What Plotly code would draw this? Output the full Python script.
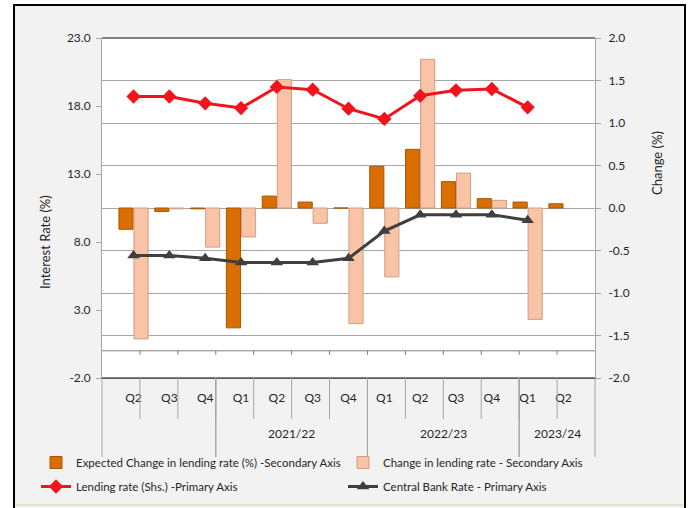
import plotly.graph_objects as go

# Fiscal-year quarters (outer level = fiscal year, inner level = quarter)
fiscal_year = ["", "", "",
               "2021/22", "2021/22", "2021/22", "2021/22",
               "2022/23", "2022/23", "2022/23", "2022/23",
               "2023/24", "2023/24"]
quarter = ["Q2", "Q3", "Q4", "Q1", "Q2", "Q3", "Q4",
           "Q1", "Q2", "Q3", "Q4", "Q1", "Q2"]

# Changes, percentage points (right axis)
expected_change = [-0.25, -0.04, -0.01, -1.41, 0.14, 0.07, 0.0,
                   0.49, 0.69, 0.31, 0.11, 0.07, 0.05]
actual_change = [-1.54, -0.01, -0.46, -0.34, 1.51, -0.18, -1.36,
                 -0.81, 1.75, 0.41, 0.09, -1.31, None]

# Interest rates, percent (left axis)
lending_rate = [18.7, 18.7, 18.2, 17.85, 19.4, 19.2, 17.8,
                17.05, 18.75, 19.15, 19.25, 17.9, None]
central_bank_rate = [7.0, 7.0, 6.8, 6.5, 6.5, 6.5, 6.8,
                     8.8, 10.0, 10.0, 10.0, 9.6, None]

# Axis ticks
rate_ticks = [-2.0, 3.0, 8.0, 13.0, 18.0, 23.0]
change_ticks = [-2.0, -1.5, -1.0, -0.5, 0.0, 0.5, 1.0, 1.5, 2.0]

W, H = 691, 508
L, R, T, B = 102, 96, 38, 130
PW, PH = W - L - R, H - T - B

FONT = "Lato, sans-serif"
TXT = "#262626"
GRID = "#A6A6A6"


def fx(px):
    """Pixel column -> paper x."""
    return (px - L) / PW


def fy(py):
    """Pixel row -> paper y."""
    return (H - B - py) / PH


# unique category keys, displayed with the quarter name only
keys = [f"{q} {y}".strip() for q, y in zip(quarter, fiscal_year)]
n = len(keys)

fig = go.Figure()
fig.add_trace(go.Bar(
    x=keys, y=expected_change, yaxis="y",
    name="Expected Change in lending rate (%) -Secondary Axis",
    marker=dict(color="#DA6E00", line=dict(color="#A85500", width=1)),
    legend="legend", legendgroup="a",
))
fig.add_trace(go.Bar(
    x=keys, y=actual_change, yaxis="y",
    name="Change in lending rate - Secondary Axis",
    marker=dict(color="#F8C4A5", line=dict(color="#CF9C86", width=1)),
    legend="legend2", legendgroup="b",
))
fig.add_trace(go.Scatter(
    x=keys, y=lending_rate, yaxis="y2", mode="lines+markers",
    name="Lending rate (Shs.) -Primary Axis",
    line=dict(color="#F2141C", width=3),
    marker=dict(symbol="diamond", size=11, color="#F2141C"),
    legend="legend", legendgroup="c",
))
fig.add_trace(go.Scatter(
    x=keys, y=central_bank_rate, yaxis="y2", mode="lines+markers",
    name="Central Bank Rate - Primary Axis",
    line=dict(color="#3F3F3F", width=3),
    marker=dict(symbol="triangle-up", size=11, color="#3F3F3F"),
    legend="legend2", legendgroup="d",
))

shapes = [
    # white strips around the framed panel
    dict(type="rect", xref="paper", yref="paper", x0=fx(0), x1=fx(13),
         y0=fy(H), y1=fy(0), fillcolor="white", line_width=0, layer="below"),
    dict(type="rect", xref="paper", yref="paper", x0=fx(686), x1=fx(W),
         y0=fy(H), y1=fy(0), fillcolor="white", line_width=0, layer="below"),
    dict(type="rect", xref="paper", yref="paper", x0=fx(0), x1=fx(W),
         y0=fy(4), y1=fy(0), fillcolor="white", line_width=0, layer="below"),
    # panel frame
    dict(type="rect", xref="paper", yref="paper", x0=fx(14), x1=fx(685),
         y0=fy(H + 5), y1=fy(5), line=dict(color="black", width=2)),
    # faint lower rule of the panel
    dict(type="line", xref="paper", yref="paper", x0=fx(16), x1=fx(683),
         y0=fy(505), y1=fy(505), line=dict(color="#E6DFCF", width=2)),
    # plot area top and bottom edges
    dict(type="line", xref="paper", yref="paper", x0=0, x1=1, y0=1, y1=1,
         line=dict(color="#595959", width=1.5)),
    dict(type="line", xref="paper", yref="paper", x0=0, x1=1, y0=0, y1=0,
         line=dict(color="#595959", width=1.5)),
    # category baseline at zero on the interest-rate axis
    dict(type="line", xref="x domain", yref="y2", x0=0, x1=1, y0=0, y1=0,
         line=dict(color="#7F7F7F", width=1)),
]
for i in range(1, n):
    # small ticks on the zero baseline
    shapes.append(dict(type="line", xref="x domain", yref="y2",
                       x0=i / n, x1=i / n, y0=0, y1=-0.3,
                       line=dict(color="#7F7F7F", width=1)))
    # short dividers between quarter labels
    shapes.append(dict(type="line", xref="x domain", yref="paper",
                       x0=i / n, x1=i / n, y0=0, y1=fy(419),
                       line=dict(color=GRID, width=1)))

annotations = [
    dict(text="Interest Rate (%)", textangle=-90, xref="paper", yref="paper",
         x=fx(45), y=fy(242), xanchor="center", yanchor="middle",
         showarrow=False, font=dict(family=FONT, size=13, color=TXT)),
    dict(text="Change (%)", textangle=-90, xref="paper", yref="paper",
         x=fx(657), y=fy(163), xanchor="center", yanchor="middle",
         showarrow=False, font=dict(family=FONT, size=13, color=TXT)),
]

# fiscal-year group labels and long dividers under the quarter labels
start = 0
for i in range(1, n + 1):
    if i == n or fiscal_year[i] != fiscal_year[start]:
        if fiscal_year[start]:
            annotations.append(dict(
                text=fiscal_year[start], xref="x domain", yref="paper",
                x=(start + i) / 2 / n, y=fy(433),
                xanchor="center", yanchor="middle", showarrow=False,
                font=dict(family=FONT, size=12, color=TXT)))
        for b in (start, i):
            shapes.append(dict(type="line", xref="x domain", yref="paper",
                               x0=b / n, x1=b / n, y0=0, y1=fy(457),
                               line=dict(color=GRID, width=1)))
        start = i

legend_common = dict(orientation="v", xanchor="left", yanchor="top",
                     bgcolor="rgba(0,0,0,0)", tracegroupgap=5,
                     font=dict(family=FONT, size=11.5, color=TXT),
                     itemwidth=30)

fig.update_layout(
    width=W, height=H,
    margin=dict(l=L, r=R, t=T, b=B, pad=0, autoexpand=False),
    paper_bgcolor="#F2F2F2", plot_bgcolor="white",
    font=dict(family=FONT, size=12, color=TXT),
    barmode="group", bargap=0.16, bargroupgap=0.06,
    xaxis=dict(
        type="category", tickmode="array", tickvals=keys, ticktext=quarter,
        showline=True, linecolor="#595959", ticks="",
        ticklabelstandoff=9,
        tickfont=dict(family=FONT, size=12, color=TXT), showgrid=False,
    ),
    yaxis=dict(
        side="right", range=[-2, 2], tickmode="array", tickvals=change_ticks,
        ticktext=[f"{v:.1f}" for v in change_ticks],
        showgrid=True, gridcolor=GRID, gridwidth=1, zeroline=False,
        showline=True, linecolor=GRID, ticks="outside", ticklen=5,
        tickcolor=GRID, ticklabelstandoff=5,
        tickfont=dict(family=FONT, size=12, color=TXT),
    ),
    yaxis2=dict(
        overlaying="y", side="left", range=[-2, 23], tickmode="array",
        tickvals=rate_ticks, ticktext=[f"{v:.1f}" for v in rate_ticks],
        showgrid=False, zeroline=False,
        showline=True, linecolor=GRID, ticks="outside", ticklen=5,
        tickcolor=GRID, ticklabelstandoff=3,
        tickfont=dict(family=FONT, size=12, color=TXT),
    ),
    legend=dict(x=fx(36), y=fy(448), **legend_common),
    legend2=dict(x=fx(343), y=fy(448), **legend_common),
    shapes=shapes, annotations=annotations,
)

fig.write_html("out.html")
